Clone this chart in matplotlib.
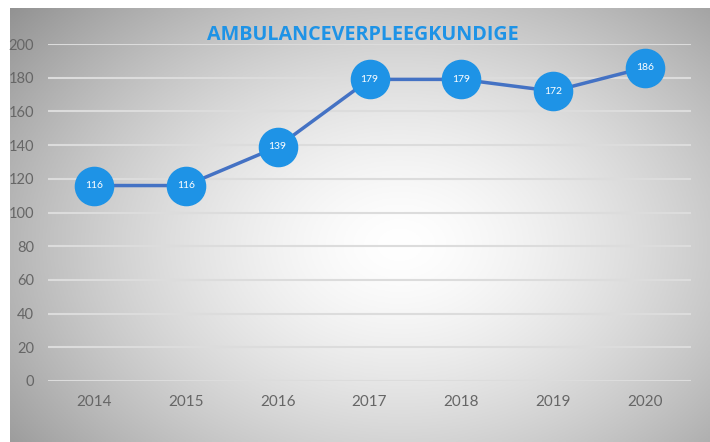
import numpy as np
import matplotlib.pyplot as plt

# data
years = ['2014', '2015', '2016', '2017', '2018', '2019', '2020']
counts = [116, 116, 139, 179, 179, 172, 186]
y_ticks = [0, 20, 40, 60, 80, 100, 120, 140, 160, 180, 200]

W, H = 710, 442
fig = plt.figure(figsize=(W / 100, H / 100), dpi=100)
fig.patch.set_facecolor('white')

# radial grey -> white background of the chart area
bg = fig.add_axes([10 / W, 0, 700 / W, 434 / H])
bg.set_axis_off()
xx, yy = np.meshgrid(np.linspace(10, 710, 350), np.linspace(8, 442, 220))
r = np.sqrt(((xx - 400) / 430) ** 2 + ((yy - 245) / 310) ** 2)
val = 1.0 - 0.33 * np.clip(r, 0, 1.3) ** 1.5
bg.imshow(np.dstack([val, val, val]), aspect='auto', extent=[0, 1, 0, 1])
bg.set_xlim(0, 1)
bg.set_ylim(0, 1)

ax = fig.add_axes([48 / W, 1 - 381 / H, (691 - 48) / W, (381 - 44) / H])
ax.patch.set_alpha(0)
x = np.arange(len(years))
ax.plot(x, counts, color='#4472C4', lw=2.5, zorder=3)
ax.plot(x, counts, 'o', ms=27.5, color='#1E93E6', mec='#1E93E6', zorder=4, clip_on=False)
for xi, v in zip(x, counts):
    ax.text(xi, v, str(v), color='white', fontsize=7.5, ha='center', va='center',
            family='Lato', zorder=5)

ax.set_xlim(-0.5, len(years) - 0.5)
ax.set_ylim(0, 200)
ax.set_yticks(y_ticks)
ax.set_xticks(x)
ax.set_xticklabels(years)
ax.grid(axis='y', color='#dcdcdc', lw=1.5)
ax.set_axisbelow(True)
for s in ax.spines.values():
    s.set_visible(False)
ax.tick_params(length=0, colors='#666666')
ax.tick_params(axis='y', pad=10, labelsize=10.5)
ax.tick_params(axis='x', pad=10, labelsize=11)
for lab in ax.get_xticklabels() + ax.get_yticklabels():
    lab.set_family('Lato')

fig.text(363 / W, 1 - 35 / H, 'AMBULANCEVERPLEEGKUNDIGE', color='#1E93E6',
         fontsize=14.2, fontweight='bold', ha='center', va='center', family='Open Sans')

fig.savefig('out.png', dpi=100)
